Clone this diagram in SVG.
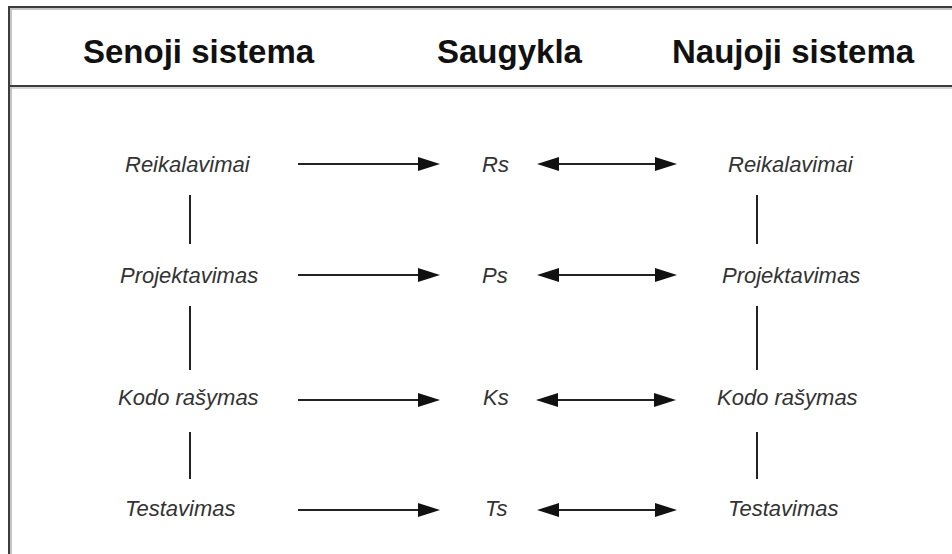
<svg xmlns="http://www.w3.org/2000/svg" width="952" height="554" viewBox="0 0 952 554">
  <style>
    .head { font-family: "Liberation Sans", Arial, sans-serif; font-weight: bold; font-size: 33px; fill: #111; }
    .lbl { font-family: "Liberation Sans", Arial, sans-serif; font-style: italic; font-size: 22px; fill: #333; }
    .conn { stroke: #222; stroke-width: 2.2; fill: none; }
    .link { stroke: #222; stroke-width: 2; fill: none; }
  </style>
  <defs>
    <marker id="arrow" viewBox="0 0 22 14" refX="12" refY="7" markerWidth="22" markerHeight="14" markerUnits="userSpaceOnUse" orient="auto-start-reverse">
      <path d="M0,0 L22,7 L0,14 Z" fill="#111"/>
    </marker>
  </defs>

  <rect width="952" height="554" fill="#fff"/>

  <!-- frame with a soft inner shade -->
  <g id="frame">
    <path d="M11,560 V9 H960" fill="none" stroke="#c4c4c4" stroke-width="2"/>
    <path d="M9,560 V7 H960" fill="none" stroke="#3c3c3c" stroke-width="2"/>
    <line x1="9" y1="86" x2="960" y2="86" stroke="#3c3c3c" stroke-width="2"/>
    <line x1="10" y1="88" x2="960" y2="88" stroke="#c8c8c8" stroke-width="1.5"/>
  </g>

  <!-- column titles -->
  <g id="titles">
    <text class="head" x="83" y="63">Senoji sistema</text>
    <text class="head" x="437" y="63">Saugykla</text>
    <text class="head" x="672" y="63">Naujoji sistema</text>
  </g>

  <!-- old system phases -->
  <g id="old-reikalavimai"><text class="lbl" x="125" y="172">Reikalavimai</text></g>
  <g id="old-projektavimas"><text class="lbl" x="120" y="283">Projektavimas</text></g>
  <g id="old-kodo"><text class="lbl" x="118" y="405">Kodo rašymas</text></g>
  <g id="old-testavimas"><text class="lbl" x="125" y="516">Testavimas</text></g>

  <!-- repository items -->
  <g id="rs"><text class="lbl" x="482" y="172">Rs</text></g>
  <g id="ps"><text class="lbl" x="482" y="283">Ps</text></g>
  <g id="ks"><text class="lbl" x="483" y="405">Ks</text></g>
  <g id="ts"><text class="lbl" x="485" y="516">Ts</text></g>

  <!-- new system phases -->
  <g id="new-reikalavimai"><text class="lbl" x="728" y="172">Reikalavimai</text></g>
  <g id="new-projektavimas"><text class="lbl" x="722" y="283">Projektavimas</text></g>
  <g id="new-kodo"><text class="lbl" x="717" y="405">Kodo rašymas</text></g>
  <g id="new-testavimas"><text class="lbl" x="728" y="516">Testavimas</text></g>

  <g id="connectors">
    <!-- phase sequence links -->
    <line class="link" x1="190" y1="195" x2="190" y2="244"/>
    <line class="link" x1="190" y1="306" x2="190" y2="370"/>
    <line class="link" x1="190" y1="432" x2="190" y2="479"/>
    <line class="link" x1="757" y1="195" x2="757" y2="244"/>
    <line class="link" x1="757" y1="306" x2="757" y2="370"/>
    <line class="link" x1="757" y1="432" x2="757" y2="479"/>

    <!-- old system to repository -->
    <line class="conn" x1="298" y1="164" x2="430" y2="164" marker-end="url(#arrow)"/>
    <line class="conn" x1="298" y1="275" x2="430" y2="275" marker-end="url(#arrow)"/>
    <line class="conn" x1="298" y1="400" x2="430" y2="400" marker-end="url(#arrow)"/>
    <line class="conn" x1="298" y1="510" x2="430" y2="510" marker-end="url(#arrow)"/>

    <!-- repository to new system, both ways -->
    <line class="conn" x1="547" y1="164" x2="667" y2="164" marker-start="url(#arrow)" marker-end="url(#arrow)"/>
    <line class="conn" x1="547" y1="275" x2="667" y2="275" marker-start="url(#arrow)" marker-end="url(#arrow)"/>
    <line class="conn" x1="546" y1="400" x2="666" y2="400" marker-start="url(#arrow)" marker-end="url(#arrow)"/>
    <line class="conn" x1="547" y1="510" x2="667" y2="510" marker-start="url(#arrow)" marker-end="url(#arrow)"/>
  </g>
</svg>
